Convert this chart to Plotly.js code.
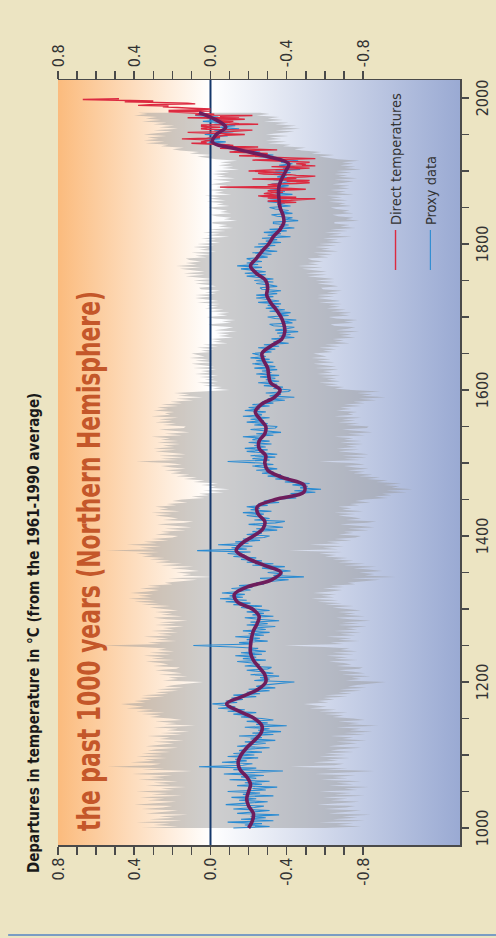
<!DOCTYPE html>
<html>
<head>
<meta charset="utf-8">
<script src="https://cdn.plot.ly/plotly-3.0.1.min.js"></script>
<style>
  html, body { margin: 0; padding: 0; width: 496px; height: 938px; overflow: hidden; background: #ece4c2; }
  /* the chart is laid out in landscape and turned a quarter turn to stand upright */
  #frame { position: absolute; left: 0; top: 0; width: 938px; height: 496px;
           transform-origin: 0 0; transform: translateY(938px) rotate(-90deg); }
  #chart { width: 938px; height: 496px; }
</style>
</head>
<body>
<div id="frame"><div id="chart"></div></div>
<script>
// Reconstructed Northern Hemisphere temperature departures (°C, vs 1961-1990), 2-year samples from 1000
const proxyStartYear = 1000;
const proxyStep = 2;
const proxyTemp = [
  -0.12, -0.31, -0.18, -0.27, -0.09,   -0.33, -0.16, -0.29, -0.21, -0.36,
  -0.14, -0.25, -0.31, -0.12, -0.23,   -0.28, -0.08, -0.19, -0.30, -0.15,
  -0.24, -0.11, -0.33, -0.17, -0.26,   -0.09, -0.29, -0.22, -0.35, -0.14,
  -0.27, -0.18, -0.31, -0.10, -0.24,   -0.16, -0.28, -0.07, -0.21, -0.38,
  -0.12, -0.24,  0.06, -0.17, -0.22,   -0.06, -0.19, -0.13, -0.25, -0.09,
  -0.23, -0.12, -0.27, -0.15, -0.20,   -0.31, -0.14, -0.22, -0.29, -0.18,
  -0.34, -0.21, -0.27, -0.15, -0.33,   -0.22, -0.37, -0.25, -0.31, -0.18,
  -0.40, -0.24, -0.30, -0.19, -0.33,   -0.27, -0.16, -0.22, -0.12, -0.24,
  -0.09, -0.18, -0.04, -0.13, -0.07,   -0.01, -0.14, -0.08, -0.17, -0.11,
  -0.24, -0.12, -0.26, -0.19, -0.31,   -0.20, -0.34, -0.24, -0.29, -0.37,
  -0.44, -0.23, -0.31, -0.26, -0.36,   -0.21, -0.33, -0.27, -0.19, -0.30,
  -0.32, -0.18, -0.26, -0.22, -0.14,   -0.29, -0.17, -0.24, -0.13, -0.27,
  -0.16, -0.29, -0.20, -0.25, -0.12,    0.09, -0.22, -0.15, -0.30, -0.19,
  -0.26, -0.13, -0.28, -0.20, -0.31,   -0.17, -0.29, -0.23, -0.34, -0.19,
  -0.30, -0.21, -0.36, -0.25, -0.18,   -0.33, -0.22, -0.28, -0.19, -0.31,
  -0.25, -0.16, -0.27, -0.12, -0.21,   -0.08, -0.19, -0.05, -0.17, -0.10,
  -0.18, -0.06, -0.15, -0.21, -0.11,   -0.22, -0.15, -0.28, -0.24, -0.33,
  -0.41, -0.26, -0.49, -0.33, -0.38,   -0.30, -0.42, -0.35, -0.27, -0.39,
  -0.22, -0.33, -0.19, -0.27, -0.16,   -0.24, -0.12, -0.18, -0.09, -0.21,
   0.07, -0.19, -0.11, -0.22, -0.04,   -0.20, -0.13, -0.26, -0.17, -0.28,
  -0.31, -0.19, -0.27, -0.22, -0.35,   -0.24, -0.38, -0.29, -0.20, -0.34,
  -0.39, -0.23, -0.31, -0.26, -0.19,   -0.28, -0.17, -0.32, -0.21, -0.26,
  -0.19, -0.30, -0.25, -0.36, -0.28,   -0.33, -0.45, -0.38, -0.47, -0.42,
  -0.55, -0.44, -0.58, -0.47, -0.51,   -0.43, -0.52, -0.39, -0.45, -0.34,
  -0.41, -0.30, -0.37, -0.27, -0.33,   -0.24, -0.35, -0.28, -0.22, -0.33,
  -0.26, -0.09, -0.31, -0.22, -0.34,   -0.21, -0.35, -0.27, -0.19, -0.30,
  -0.18, -0.29, -0.23, -0.32, -0.20,   -0.31, -0.22, -0.27, -0.17, -0.33,
  -0.24, -0.37, -0.29, -0.21, -0.34,   -0.35, -0.23, -0.30, -0.19, -0.28,
  -0.21, -0.31, -0.17, -0.27, -0.24,   -0.29, -0.18, -0.26, -0.20, -0.31,
  -0.22, -0.33, -0.27, -0.39, -0.30,   -0.44, -0.31, -0.37, -0.29, -0.41,
  -0.42, -0.33, -0.38, -0.28, -0.35,   -0.25, -0.36, -0.29, -0.34, -0.26,
  -0.36, -0.24, -0.32, -0.27, -0.35,   -0.23, -0.34, -0.28, -0.22, -0.33,
  -0.24, -0.31, -0.21, -0.29, -0.26,   -0.22, -0.32, -0.27, -0.34, -0.25,
  -0.36, -0.28, -0.41, -0.33, -0.38,   -0.32, -0.44, -0.36, -0.42, -0.35,
  -0.46, -0.34, -0.40, -0.44, -0.33,   -0.31, -0.43, -0.38, -0.45, -0.34,
  -0.30, -0.41, -0.35, -0.42, -0.31,   -0.39, -0.29, -0.36, -0.30, -0.37,
  -0.25, -0.36, -0.30, -0.24, -0.33,   -0.24, -0.35, -0.29, -0.37, -0.27,
  -0.26, -0.35, -0.31, -0.24, -0.33,   -0.23, -0.33, -0.27, -0.19, -0.29,
  -0.18, -0.29, -0.22, -0.16, -0.27,   -0.14, -0.25, -0.19, -0.27, -0.21,
  -0.19, -0.30, -0.24, -0.32, -0.22,   -0.35, -0.26, -0.31, -0.23, -0.34,
  -0.25, -0.37, -0.29, -0.35, -0.27,   -0.42, -0.30, -0.37, -0.28, -0.40,
  -0.31, -0.44, -0.36, -0.41, -0.33,   -0.33, -0.46, -0.39, -0.43, -0.35,
  -0.32, -0.43, -0.37, -0.41, -0.34,   -0.31, -0.42, -0.35, -0.39, -0.30,
  -0.40, -0.31, -0.37, -0.29, -0.43,   -0.34, -0.39, -0.31, -0.41, -0.35,
  -0.41, -0.32, -0.38, -0.43, -0.33,   -0.45, -0.35, -0.40, -0.33, -0.42,
  -0.34, -0.47, -0.38, -0.44, -0.36,   -0.43, -0.37, -0.46, -0.35, -0.31,
  -0.25, -0.33, -0.21, -0.26, -0.16,   -0.12, -0.18, -0.06, -0.10,  0.02,
  -0.08,  0.03, -0.05,  0.01, -0.09,    0.03, -0.07, -0.12, -0.02, -0.15,
  -0.05, -0.13, -0.02, -0.09,  0.04,   -0.06,  0.02, -0.04,  0.08,  0.01,
   0.06
];

// Half-width of the uncertainty range (two standard errors) before / from the break year
const uncertaintyBreakYear = 1600;
const uncertaintyEarly = 0.48;
const uncertaintyLate = 0.32;

// 50-year smoothed reconstruction, decadal samples from 1000
const smoothStartYear = 1000;
const smoothStep = 10;
const smoothTemp = [
  -0.20, -0.22, -0.225, -0.20, -0.19, -0.20, -0.21, -0.19, -0.155, -0.145,
  -0.16, -0.19, -0.23, -0.265, -0.27, -0.23, -0.15, -0.085, -0.165, -0.25,
  -0.29, -0.285, -0.255, -0.225, -0.21, -0.21, -0.215, -0.225, -0.245, -0.255,
  -0.22, -0.14, -0.125, -0.19, -0.32, -0.37, -0.28, -0.19, -0.135, -0.165,
  -0.225, -0.275, -0.285, -0.25, -0.245, -0.34, -0.49, -0.49, -0.38, -0.30,
  -0.285, -0.29, -0.255, -0.255, -0.285, -0.29, -0.26, -0.235, -0.265, -0.335,
  -0.365, -0.315, -0.305, -0.30, -0.28, -0.27, -0.315, -0.375, -0.39, -0.385,
  -0.37, -0.345, -0.315, -0.295, -0.30, -0.29, -0.24, -0.21, -0.24, -0.27,
  -0.305, -0.33, -0.365, -0.385, -0.38, -0.365, -0.36, -0.357, -0.36, -0.375,
  -0.395, -0.41, -0.30, -0.14, -0.01, -0.03, -0.08, -0.03, 0.06
];

// Thermometer record, annual values from 1856
const directStartYear = 1856;
const directTemp = [
  -0.35, -0.45, -0.40, -0.30,
  -0.42, -0.50, -0.55, -0.30, -0.45, -0.28, -0.25, -0.35, -0.30, -0.28,
  -0.30, -0.38, -0.32, -0.30, -0.40, -0.50, -0.42, -0.20, -0.05, -0.35,
  -0.35, -0.30, -0.33, -0.45, -0.52, -0.50, -0.40, -0.52, -0.38, -0.22,
  -0.45, -0.40, -0.50, -0.55, -0.45, -0.42, -0.28, -0.25, -0.38, -0.28,
  -0.20, -0.28, -0.42, -0.45, -0.52, -0.40, -0.32, -0.55, -0.48, -0.50,
  -0.45, -0.48, -0.52, -0.42, -0.25, -0.22, -0.40, -0.55, -0.42, -0.32,
  -0.28, -0.15, -0.30, -0.28, -0.30, -0.20, -0.10, -0.18, -0.15, -0.35,
  -0.10, -0.05, -0.10, -0.25, -0.05, -0.12, -0.08,  0.05,  0.10,  0.02,
   0.05,  0.02,  0.00,  0.05,  0.15,  0.02, -0.05, -0.02, -0.05, -0.08,
  -0.18, -0.05,  0.02,  0.12, -0.10, -0.15, -0.22,  0.02,  0.05,  0.02,
  -0.05,  0.05,  0.02,  0.05, -0.25, -0.15, -0.08, -0.05, -0.12, -0.02,
  -0.05, -0.18, -0.10,  0.12, -0.15, -0.05, -0.22,  0.08, -0.02,  0.05,
   0.12,  0.22,  0.00,  0.22,  0.05,  0.00,  0.10,  0.22,  0.25,  0.22,
   0.38,  0.32,  0.08,  0.12,  0.25,  0.45,  0.30,  0.50,  0.67,  0.48
];

// Axis ticks and labels
const yearTicks = [1000, 1050, 1100, 1150, 1200, 1250, 1300, 1350, 1400, 1450, 1500,
                   1550, 1600, 1650, 1700, 1750, 1800, 1850, 1900, 1950, 2000];
const yearLabels = ['1000', '', '', '', '1200', '', '', '', '1400', '', '',
                    '', '1600', '', '', '', '1800', '', '', '', '2000'];
const tempTicks = [0.8, 0.7, 0.6, 0.5, 0.4, 0.3, 0.2, 0.1, 0.0,
                   -0.1, -0.2, -0.3, -0.4, -0.5, -0.6, -0.7, -0.8];
const tempLabels = ['0.8', '', '', '', '0.4', '', '', '', '0.0',
                    '', '', '', '-0.4', '', '', '', '-0.8'];

const legendNames = ['Direct temperatures', 'Proxy data'];
const titleText = 'Departures in temperature in °C (from the 1961-1990 average)';
const headline = 'the past 1000 years (Northern Hemisphere)';

// ---- derived series ----
const proxyYears = proxyTemp.map((_, i) => proxyStartYear + proxyStep * i);
const smoothYears = smoothTemp.map((_, i) => smoothStartYear + smoothStep * i);
const directYears = directTemp.map((_, i) => directStartYear + i);
const halfWidth = proxyYears.map(y => (y < uncertaintyBreakYear ? uncertaintyEarly : uncertaintyLate));
const bandLow = proxyTemp.map((t, i) => t - halfWidth[i]);
const bandHigh = proxyTemp.map((t, i) => t + halfWidth[i]);

const xRange = [976.7, 2024.7];
const yRange = [-1.309, 0.8];

const narrow = "'Liberation Sans Narrow', 'Arial Narrow', 'DejaVu Sans Condensed', 'Liberation Sans', Arial, sans-serif";
const axisColor = '#4a4a4a';

const traces = [
  { // warm-to-cool backdrop
    type: 'scatter', mode: 'none',
    x: [xRange[0], xRange[1], xRange[1], xRange[0], xRange[0]],
    y: [yRange[0], yRange[0], yRange[1], yRange[1], yRange[0]],
    fill: 'toself', fillcolor: '#ffffff',
    fillgradient: { type: 'vertical', start: yRange[0], stop: yRange[1],
      colorscale: [[0, '#9aaad3'], [0.62, '#ffffff'], [1, '#fbbb7d']] },
    hoverinfo: 'skip', showlegend: false
  },
  { // uncertainty band, lower edge
    type: 'scatter', mode: 'lines', x: proxyYears, y: bandLow,
    line: { width: 0, color: 'rgba(0,0,0,0)' }, hoverinfo: 'skip', showlegend: false
  },
  { // uncertainty band, upper edge filled down to the lower edge
    type: 'scatter', mode: 'lines', x: proxyYears, y: bandHigh,
    fill: 'tonexty', fillcolor: 'rgba(150,150,150,0.46)',
    line: { width: 0, color: 'rgba(0,0,0,0)' }, hoverinfo: 'skip', showlegend: false
  },
  { // reference line at zero
    type: 'scatter', mode: 'lines', x: xRange, y: [0, 0],
    line: { color: '#15386b', width: 2 }, hoverinfo: 'skip', showlegend: false
  },
  {
    type: 'scatter', mode: 'lines', name: legendNames[1], legendgroup: 'proxy', legendrank: 2,
    x: proxyYears, y: proxyTemp,
    line: { color: '#2a8bd2', width: 1.1 }
  },
  {
    type: 'scatter', mode: 'lines', name: legendNames[0], legendgroup: 'direct', legendrank: 1,
    x: directYears, y: directTemp,
    line: { color: '#dc2a40', width: 1.4 }
  },
  {
    type: 'scatter', mode: 'lines', x: smoothYears, y: smoothTemp,
    line: { color: '#6e1d5c', width: 3.6, shape: 'spline', smoothing: 1 },
    hoverinfo: 'skip', showlegend: false
  },
  { // keeps the right-hand temperature axis drawn
    type: 'scatter', mode: 'none', x: [xRange[0]], y: [0], yaxis: 'y2',
    hoverinfo: 'skip', showlegend: false
  }
];

const tempAxis = {
  range: yRange, tickmode: 'array', tickvals: tempTicks, ticktext: tempLabels,
  ticks: 'outside', ticklen: 8, tickwidth: 1.5, tickcolor: axisColor,
  showline: true, linecolor: axisColor, linewidth: 1.5,
  showgrid: false, zeroline: false, fixedrange: true,
  tickfont: { family: narrow, size: 16, color: '#333333' }
};

const layout = {
  width: 938, height: 496,
  margin: { l: 93, r: 80, t: 58, b: 36 },
  paper_bgcolor: '#ece4c2', plot_bgcolor: 'rgba(0,0,0,0)',
  showlegend: true,
  legend: {
    x: 0.745, xanchor: 'left', y: 0.2, yanchor: 'top',
    bgcolor: 'rgba(0,0,0,0)', borderwidth: 0, tracegroupgap: 13, itemwidth: 40,
    font: { family: narrow, size: 14.5, color: '#333333' }
  },
  xaxis: {
    range: xRange, tickmode: 'array', tickvals: yearTicks, ticktext: yearLabels,
    ticks: 'outside', ticklen: 7, tickwidth: 1.5, tickcolor: axisColor,
    showline: true, linecolor: axisColor, linewidth: 1.5,
    showgrid: false, zeroline: false, fixedrange: true,
    tickfont: { family: narrow, size: 16, color: '#333333' }
  },
  yaxis: Object.assign({ side: 'left' }, tempAxis),
  yaxis2: Object.assign({ side: 'right', overlaying: 'y' }, tempAxis),
  annotations: [
    { text: titleText, xref: 'paper', yref: 'paper',
      x: -0.039, xanchor: 'left', y: 1.06, yanchor: 'middle', showarrow: false,
      font: { family: narrow, size: 15, weight: 'bold', color: '#1a1a1a' } },
    { text: headline, xref: 'paper', yref: 'paper',
      x: 0.371, xanchor: 'center', y: 0.923, yanchor: 'middle', showarrow: false,
      font: { family: narrow, size: 32, weight: 'bold', color: '#c4572a' } }
  ],
  shapes: [
    { type: 'line', xref: 'paper', yref: 'paper', x0: -0.1176, x1: -0.1176, y0: -0.09, y1: 1.124,
      line: { color: '#7a9cc4', width: 2 } }
  ]
};

Plotly.newPlot('chart', traces, layout, { displayModeBar: false, staticPlot: true }).then(() => {
  // the headline is set in a condensed cut: fit it to its run length
  document.querySelectorAll('#chart .annotation-text').forEach(el => {
    if (el.textContent === headline) {
      el.setAttribute('textLength', '540');
      el.setAttribute('lengthAdjust', 'spacingAndGlyphs');
    }
  });
});
</script>
</body>
</html>
